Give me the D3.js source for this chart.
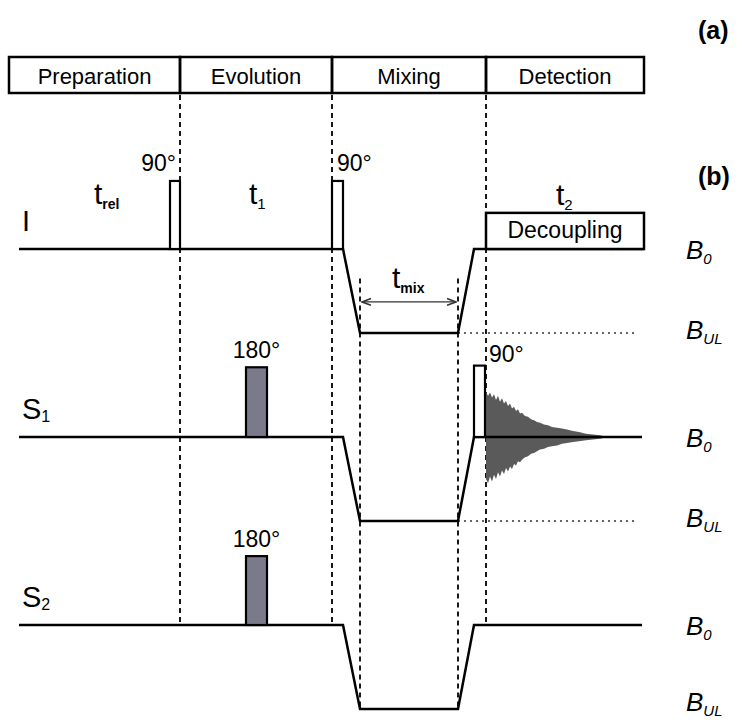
<!DOCTYPE html>
<html>
<head>
<meta charset="utf-8">
<script src="https://cdn.jsdelivr.net/npm/d3@7/dist/d3.min.js"></script>
<style>
body { margin: 0; background: #fff; }
text { font-family: "Liberation Sans", Arial, sans-serif; fill: #000; }
</style>
</head>
<body>
<script>
var width = 741, height = 720;

// sequence blocks, in time units
var phases = ["Preparation", "Evolution", "Mixing", "Detection"];
var phaseEdges = [0, 171, 323, 477, 635];

// channels
var channels = ["I", "S1", "S2"];
var channelSub = ["", "1", "2"];
var channelEnd = [635, 633, 633];

// field cycling profile (level in % of the B0 -> BUL drop)
var fieldTimes = [10, 334, 351, 449, 465];
var fieldLevels = [0, 0, -100, -100, 0];

// rf pulses
var pulseChannel = ["I", "I", "S1", "S1", "S2"];
var pulseStart = [161, 323, 237, 465, 237];
var pulseEnd = [171, 334, 258, 476, 258];
var pulseHeight = [81, 81, 83, 85, 82];
var pulseLabel = ["90°", "90°", "180°", "90°", "180°"];
var pulseFilled = [false, false, true, false, true];

// FID envelope on S1
var fidTimes = [477, 479, 481, 483, 485, 487, 489, 491, 493, 495, 497, 499, 501, 503, 505, 507, 509, 511, 513, 516, 519, 522, 525, 528, 531, 535, 539, 543, 548, 553, 558, 564, 570, 577, 584, 591, 598];
var fidUpper = [54, 49, 53, 47, 51, 44, 49, 42, 46, 40, 43, 37, 40, 34, 36, 31, 33, 28, 29, 25, 24, 21, 20, 18, 17, 15, 14, 12, 11, 10, 9, 7, 6, 4, 3, 2, 0];
var fidLower = [50, 55, 47, 53, 45, 50, 42, 47, 40, 44, 37, 41, 35, 38, 32, 34, 29, 30, 27, 24, 23, 20, 19, 17, 15, 14, 12, 11, 10, 8, 7, 6, 5, 4, 3, 2, 0];

// decoupling block and mixing time
var decStart = 477, decEnd = 635, decHeight = 43;
var mixStart = 351, mixEnd = 449;
var bulDotEnd = 629;

var svg = d3.select("body").append("svg")
	.attr("width", width)
	.attr("height", height);

var x = d3.scaleLinear().domain([0, 635]).range([9, 644]);
var chY = d3.scalePoint().domain(channels).range([249, 625]);
var lv = d3.scaleLinear().domain([-100, 0]).range([84, 0]);
function yy(ch, level) { return chY(ch) + lv(level); }

var boxTop = 57, boxBottom = 93;

// phase boxes
var gPh = svg.append("g");
phases.forEach(function (p, i) {
	gPh.append("rect")
		.attr("x", x(phaseEdges[i]))
		.attr("y", boxTop)
		.attr("width", x(phaseEdges[i + 1]) - x(phaseEdges[i]))
		.attr("height", boxBottom - boxTop)
		.attr("fill", "none")
		.attr("stroke", "#000")
		.attr("stroke-width", 2.5);
	gPh.append("text")
		.attr("x", (x(phaseEdges[i]) + x(phaseEdges[i + 1])) / 2)
		.attr("y", 84)
		.attr("text-anchor", "middle")
		.attr("font-size", "22px")
		.text(p);
});

// dashed guides
svg.selectAll(".guide").data(phaseEdges.slice(1, 4))
	.enter().append("line")
	.attr("class", "guide")
	.attr("x1", function (d) { return x(d); })
	.attr("x2", function (d) { return x(d); })
	.attr("y1", boxBottom + 2)
	.attr("y2", yy("S2", 2))
	.attr("stroke", "#000")
	.attr("stroke-width", 1.8)
	.attr("stroke-dasharray", "5,4");

svg.selectAll(".mixguide").data([mixStart, mixEnd])
	.enter().append("line")
	.attr("class", "mixguide")
	.attr("x1", function (d) { return x(d); })
	.attr("x2", function (d) { return x(d); })
	.attr("y1", yy("I", -35))
	.attr("y2", yy("S2", -100))
	.attr("stroke", "#000")
	.attr("stroke-width", 1.8)
	.attr("stroke-dasharray", "5,4");

// BUL dotted lines
svg.selectAll(".bul").data(["I", "S1"])
	.enter().append("line")
	.attr("x1", x(mixEnd))
	.attr("x2", x(bulDotEnd))
	.attr("y1", function (d) { return yy(d, -100); })
	.attr("y2", function (d) { return yy(d, -100); })
	.attr("stroke", "#333")
	.attr("stroke-width", 1.5)
	.attr("stroke-dasharray", "2,4");

// FID
var fid = fidTimes.map(function (t, i) { return { t: t, up: fidUpper[i], lo: fidLower[i] }; });
svg.append("path")
	.datum(fid)
	.attr("fill", "#5a5a5a")
	.attr("d", d3.area()
		.x(function (d) { return x(d.t); })
		.y0(function (d) { return yy("S1", -d.lo); })
		.y1(function (d) { return yy("S1", d.up); }));

// field profiles
var line = d3.line();
channels.forEach(function (ch, i) {
	var pts = fieldTimes.map(function (t, j) { return [x(t), yy(ch, fieldLevels[j])]; });
	pts.push([x(channelEnd[i]), yy(ch, 0)]);
	svg.append("path")
		.attr("d", line(pts))
		.attr("fill", "none")
		.attr("stroke", "#000")
		.attr("stroke-width", 2.5)
		.attr("stroke-linejoin", "miter");
});

// decoupling block
svg.append("rect")
	.attr("x", x(decStart))
	.attr("y", yy("I", decHeight))
	.attr("width", x(decEnd) - x(decStart))
	.attr("height", lv(0) - lv(decHeight))
	.attr("fill", "#fff")
	.attr("stroke", "#000")
	.attr("stroke-width", 2.5);
svg.append("text")
	.attr("x", (x(decStart) + x(decEnd)) / 2)
	.attr("y", yy("I", 13))
	.attr("text-anchor", "middle")
	.attr("font-size", "23px")
	.text("Decoupling");

// pulses
pulseChannel.forEach(function (ch, i) {
	svg.append("rect")
		.attr("x", x(pulseStart[i]))
		.attr("y", yy(ch, pulseHeight[i]))
		.attr("width", x(pulseEnd[i]) - x(pulseStart[i]))
		.attr("height", lv(0) - lv(pulseHeight[i]))
		.attr("fill", pulseFilled[i] ? "#7b7a8b" : "#fff")
		.attr("stroke", "#000")
		.attr("stroke-width", 2.2);
});

// pulse labels
var lab = svg.append("g").attr("font-size", "23px");
lab.append("text").attr("x", x(pulseEnd[0]) - 4).attr("y", yy("I", pulseHeight[0]) - 10)
	.attr("text-anchor", "end").text(pulseLabel[0]);
lab.append("text").attr("x", x(pulseStart[1]) + 5).attr("y", yy("I", pulseHeight[1]) - 10)
	.text(pulseLabel[1]);
lab.append("text").attr("x", (x(pulseStart[2]) + x(pulseEnd[2])) / 2).attr("y", yy("S1", pulseHeight[2]) - 9)
	.attr("text-anchor", "middle").text(pulseLabel[2]);
lab.append("text").attr("x", x(pulseEnd[3]) + 4).attr("y", yy("S1", pulseHeight[3]) - 4)
	.text(pulseLabel[3]);
lab.append("text").attr("x", (x(pulseStart[4]) + x(pulseEnd[4])) / 2).attr("y", yy("S2", pulseHeight[4]) - 9)
	.attr("text-anchor", "middle").text(pulseLabel[4]);

// time labels
function tLabel(px, py, sub, subSize, bold) {
	var t = svg.append("text").attr("x", px).attr("y", py).attr("font-size", "30px");
	t.append("tspan").text("t");
	t.append("tspan").attr("dy", 5).attr("font-size", subSize + "px")
		.attr("font-weight", bold ? "bold" : "normal").text(sub);
}
tLabel(94, 204, "rel", 14, true);
tLabel(249, 204, "1", 15, false);
tLabel(556, 205, "2", 15, false);
tLabel(392, 288, "mix", 14, true);

// t_mix arrow
var ay = yy("I", -63);
svg.append("defs").append("marker")
	.attr("id", "arr")
	.attr("viewBox", "0 0 10 10")
	.attr("refX", 9).attr("refY", 5)
	.attr("markerWidth", 8).attr("markerHeight", 8)
	.attr("orient", "auto-start-reverse")
	.append("path")
	.attr("d", "M1,2 L9,5 L1,8")
	.attr("fill", "none")
	.attr("stroke", "#333")
	.attr("stroke-width", 1.4);
svg.append("line")
	.attr("x1", x(mixStart) + 2).attr("x2", x(mixEnd) - 2)
	.attr("y1", ay).attr("y2", ay)
	.attr("stroke", "#333")
	.attr("stroke-width", 1.4)
	.attr("marker-start", "url(#arr)")
	.attr("marker-end", "url(#arr)");

// channel labels
channels.forEach(function (ch, i) {
	var t = svg.append("text").attr("x", 22).attr("y", chY(ch) - 18).attr("font-size", "29px");
	t.append("tspan").text(ch.charAt(0));
	if (channelSub[i]) t.append("tspan").attr("dy", 3).attr("font-size", "16px").text(channelSub[i]);
});

// field labels
channels.forEach(function (ch, i) {
	[[0, "0", 10], [-100, "UL", i === 2 ? 2 : 6]].forEach(function (f) {
		var t = svg.append("text").attr("x", 686).attr("y", yy(ch, f[0]) + f[2])
			.attr("font-size", "26px").attr("font-style", "italic");
		t.append("tspan").text("B");
		t.append("tspan").attr("dy", 5).attr("font-size", "15px").text(f[1]);
	});
});

// panel letters
svg.append("text").attr("x", 698).attr("y", 39).attr("font-size", "25px").attr("font-weight", "bold").text("(a)");
svg.append("text").attr("x", 698).attr("y", 185).attr("font-size", "25px").attr("font-weight", "bold").text("(b)");
</script>
</body>
</html>
